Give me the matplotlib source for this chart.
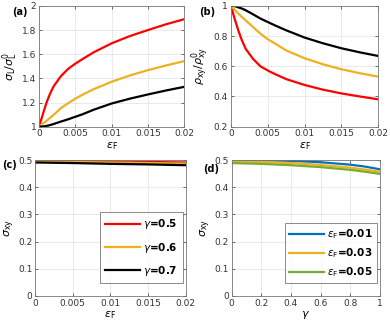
import matplotlib.pyplot as plt

plt.rcParams.update({
    "font.family": "DejaVu Sans",
    "font.size": 7,
    "axes.edgecolor": "#777777",
    "axes.linewidth": 0.6,
    "xtick.color": "#333333",
    "ytick.color": "#333333",
    "mathtext.fontset": "dejavusans",
})

RED, ORANGE, BLACK = "#ff0000", "#edb120", "#000000"
BLUE, GREEN = "#0072bd", "#77ac30"

# -------- data --------
eps_a = [0, 0.0005, 0.001, 0.0015, 0.002, 0.003, 0.004, 0.005, 0.006,
         0.0075, 0.01, 0.0125, 0.015, 0.0175, 0.02]
sigL_g05 = [1.0, 1.097, 1.194, 1.27, 1.333, 1.417, 1.478, 1.522, 1.56,
            1.615, 1.69, 1.75, 1.80, 1.848, 1.89]
sigL_g06 = [1.0, 1.024, 1.047, 1.072, 1.097, 1.153, 1.194, 1.232, 1.265,
            1.31, 1.372, 1.424, 1.468, 1.507, 1.543]
sigL_g07 = [1.0, 1.001, 1.006, 1.013, 1.022, 1.042, 1.061, 1.082, 1.103,
            1.14, 1.192, 1.232, 1.267, 1.30, 1.33]

rho_g05 = [1.0, 0.916, 0.838, 0.771, 0.716, 0.649, 0.6, 0.572, 0.548,
           0.515, 0.476, 0.445, 0.42, 0.40, 0.381]
rho_g06 = [1.0, 0.975, 0.949, 0.926, 0.904, 0.86, 0.816, 0.779, 0.75,
           0.705, 0.653, 0.613, 0.58, 0.554, 0.531]
rho_g07 = [1.0, 0.999, 0.99, 0.982, 0.971, 0.944, 0.916, 0.893, 0.87,
           0.838, 0.79, 0.752, 0.719, 0.692, 0.668]

eps_c = [0, 0.005, 0.01, 0.015, 0.02]
sxy_g05 = [0.499, 0.497, 0.495, 0.493, 0.491]
sxy_g06 = [0.496, 0.493, 0.491, 0.489, 0.487]
sxy_g07 = [0.491, 0.489, 0.486, 0.484, 0.481]

gamma_d = [0, 0.2, 0.4, 0.6, 0.8, 0.9, 1.0]
sxy_e01 = [0.499, 0.499, 0.497, 0.492, 0.483, 0.476, 0.466]
sxy_e03 = [0.495, 0.493, 0.489, 0.482, 0.472, 0.465, 0.457]
sxy_e05 = [0.489, 0.486, 0.481, 0.474, 0.464, 0.457, 0.449]

eps_ticks = [0, 0.005, 0.01, 0.015, 0.02]
eps_ticklabels = ["0", "0.005", "0.01", "0.015", "0.02"]

fig = plt.figure(figsize=(3.9, 3.24), dpi=100)
ax_a = fig.add_axes([0.100, 0.609, 0.373, 0.373])
ax_b = fig.add_axes([0.592, 0.609, 0.378, 0.373])
ax_c = fig.add_axes([0.090, 0.087, 0.386, 0.419])
ax_d = fig.add_axes([0.594, 0.087, 0.380, 0.419])


def style(ax):
    ax.grid(True, color="#e6e6e6", linewidth=0.6)
    ax.set_axisbelow(True)
    ax.tick_params(axis="both", length=2, width=0.5, direction="in",
                   labelsize=6.5, pad=2, top=True, right=True)


lw = 1.6
ax_a.plot(eps_a, sigL_g05, color=RED, lw=lw)
ax_a.plot(eps_a, sigL_g06, color=ORANGE, lw=lw)
ax_a.plot(eps_a, sigL_g07, color=BLACK, lw=lw)
ax_a.set_xlim(0, 0.02)
ax_a.set_ylim(1, 2)
ax_a.set_xticks(eps_ticks)
ax_a.set_xticklabels(eps_ticklabels)
ax_a.set_yticks([1, 1.2, 1.4, 1.6, 1.8, 2])
ax_a.set_yticklabels(["1", "1.2", "1.4", "1.6", "1.8", "2"])
ax_a.set_xlabel(r"$\epsilon_{\mathrm{F}}$", fontsize=8, labelpad=1)
ax_a.set_ylabel(r"$\sigma_{\mathrm{L}}/\sigma_{\mathrm{L}}^{0}$", fontsize=8, labelpad=1)
style(ax_a)

ax_b.plot(eps_a, rho_g05, color=RED, lw=lw)
ax_b.plot(eps_a, rho_g06, color=ORANGE, lw=lw)
ax_b.plot(eps_a, rho_g07, color=BLACK, lw=lw)
ax_b.set_xlim(0, 0.02)
ax_b.set_ylim(0.2, 1)
ax_b.set_xticks(eps_ticks)
ax_b.set_xticklabels(eps_ticklabels)
ax_b.set_yticks([0.2, 0.4, 0.6, 0.8, 1])
ax_b.set_yticklabels(["0.2", "0.4", "0.6", "0.8", "1"])
ax_b.set_xlabel(r"$\epsilon_{\mathrm{F}}$", fontsize=8, labelpad=1)
ax_b.set_ylabel(r"$\rho_{\mathrm{xy}}/\rho_{\mathrm{xy}}^{0}$", fontsize=8, labelpad=1)
style(ax_b)

ax_c.plot(eps_c, sxy_g05, color=RED, lw=lw, label=r"$\gamma$=0.5")
ax_c.plot(eps_c, sxy_g06, color=ORANGE, lw=lw, label=r"$\gamma$=0.6")
ax_c.plot(eps_c, sxy_g07, color=BLACK, lw=lw, label=r"$\gamma$=0.7")
ax_c.set_xlim(0, 0.02)
ax_c.set_ylim(0, 0.5)
ax_c.set_xticks(eps_ticks)
ax_c.set_xticklabels(eps_ticklabels)
ax_c.set_yticks([0, 0.1, 0.2, 0.3, 0.4, 0.5])
ax_c.set_yticklabels(["0", "0.1", "0.2", "0.3", "0.4", "0.5"])
ax_c.set_xlabel(r"$\epsilon_{\mathrm{F}}$", fontsize=8, labelpad=1)
ax_c.set_ylabel(r"$\sigma_{\mathrm{xy}}$", fontsize=8, labelpad=1)
style(ax_c)
leg = ax_c.legend(loc="lower right", bbox_to_anchor=(1.0, 0.07),
                  prop={"weight": "bold", "size": 7.5}, handlelength=3.3,
                  fancybox=False, edgecolor="#555555", borderpad=0.5,
                  labelspacing=0.9, handletextpad=0.3, borderaxespad=0.3)
leg.get_frame().set_linewidth(0.6)

ax_d.plot(gamma_d, sxy_e01, color=BLUE, lw=lw, label=r"$\epsilon_{\mathrm{F}}$=0.01")
ax_d.plot(gamma_d, sxy_e03, color=ORANGE, lw=lw, label=r"$\epsilon_{\mathrm{F}}$=0.03")
ax_d.plot(gamma_d, sxy_e05, color=GREEN, lw=lw, label=r"$\epsilon_{\mathrm{F}}$=0.05")
ax_d.set_xlim(0, 1)
ax_d.set_ylim(0, 0.5)
ax_d.set_xticks([0, 0.2, 0.4, 0.6, 0.8, 1])
ax_d.set_xticklabels(["0", "0.2", "0.4", "0.6", "0.8", "1"])
ax_d.set_yticks([0, 0.1, 0.2, 0.3, 0.4, 0.5])
ax_d.set_yticklabels(["0", "0.1", "0.2", "0.3", "0.4", "0.5"])
ax_d.set_xlabel(r"$\gamma$", fontsize=8, labelpad=1)
ax_d.set_ylabel(r"$\sigma_{\mathrm{xy}}$", fontsize=8, labelpad=1)
style(ax_d)
leg = ax_d.legend(loc="lower right", bbox_to_anchor=(1.0, 0.07),
                  prop={"weight": "bold", "size": 7.5}, handlelength=3.3,
                  fancybox=False, edgecolor="#555555", borderpad=0.4,
                  labelspacing=0.5, handletextpad=0.3, borderaxespad=0.3)
leg.get_frame().set_linewidth(0.6)

fig.text(0.03, 0.955, "(a)", fontsize=7, fontweight="bold")
fig.text(0.51, 0.955, "(b)", fontsize=7, fontweight="bold")
fig.text(0.005, 0.48, "(c)", fontsize=7, fontweight="bold")
fig.text(0.52, 0.47, "(d)", fontsize=7, fontweight="bold")

fig.savefig("out.png", dpi=100)
